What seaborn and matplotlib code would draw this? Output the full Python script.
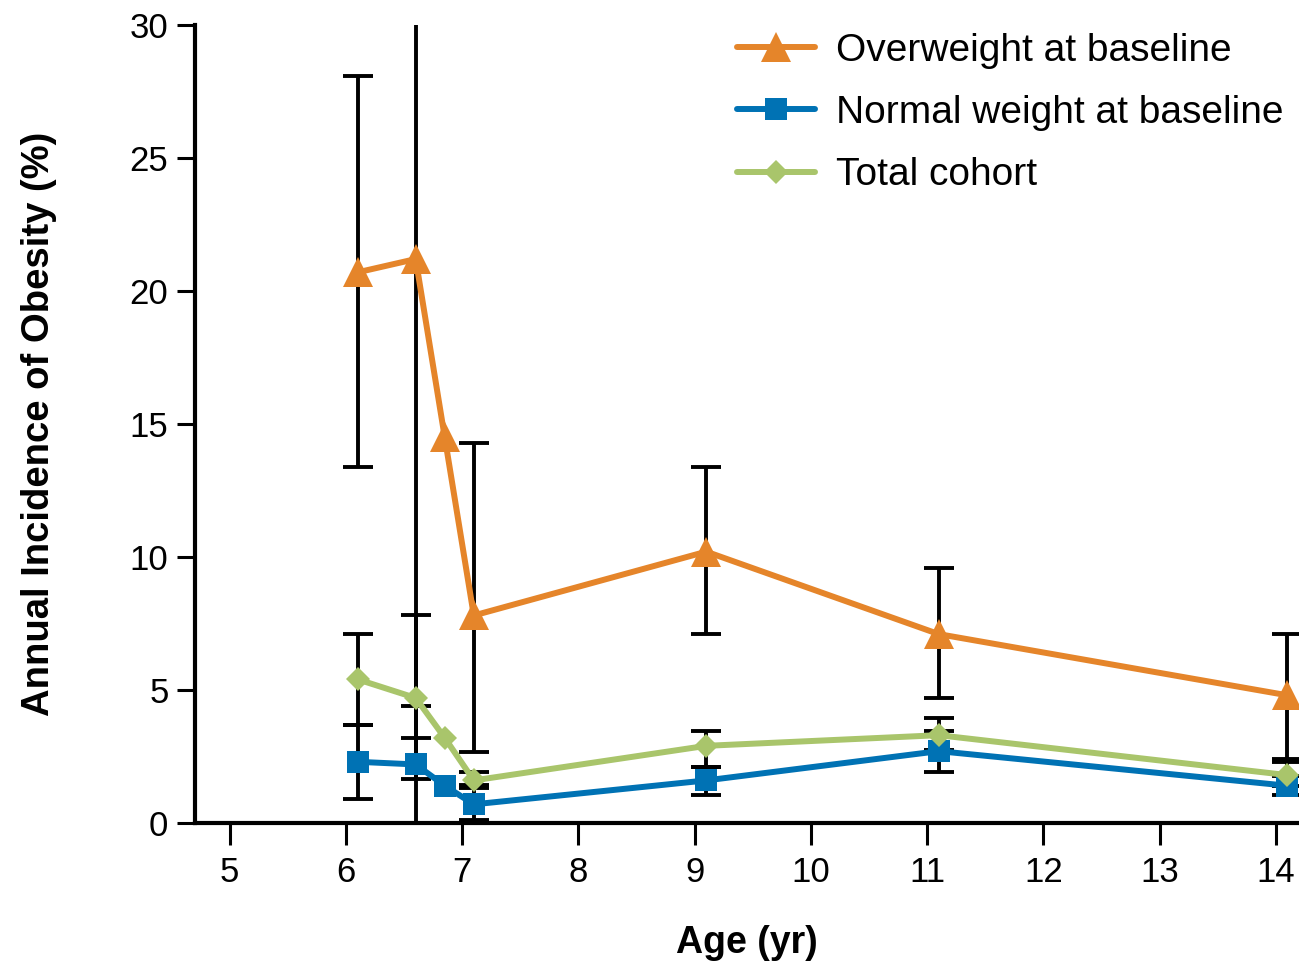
import numpy as np
import pandas as pd
import matplotlib
matplotlib.use("Agg")
import matplotlib.pyplot as plt
import seaborn as sns

# ---- data ----
age = [6.1, 6.6, 6.85, 7.1, 9.1, 11.1, 14.1]
overweight = [20.7, 21.2, 14.5, 7.8, 10.2, 7.1, 4.8]
over_lo = [13.4, -0.1, np.nan, 2.65, 7.1, 4.7, 2.4]
over_hi = [28.1, 32.0, np.nan, 14.3, 13.4, 9.6, 7.1]
normal = [2.3, 2.2, 1.4, 0.7, 1.6, 2.7, 1.4]
norm_lo = [0.9, 1.65, np.nan, 0.1, 1.05, 1.9, 1.05]
norm_hi = [3.7, 4.4, np.nan, 1.43, 2.1, 3.45, 1.75]
total = [5.4, 4.7, 3.2, 1.6, 2.9, 3.3, 1.8]
tot_lo = [3.7, 3.2, np.nan, 1.3, 2.1, 2.75, 1.4]
tot_hi = [7.1, 7.8, np.nan, 1.9, 3.45, 3.95, 2.3]
labels = ["Overweight at baseline", "Normal weight at baseline", "Total cohort"]
xticks = [5, 6, 7, 8, 9, 10, 11, 12, 13, 14]
yticks = [0, 5, 10, 15, 20, 25, 30]

sns.set_theme(style="white")
plt.rcParams['font.family'] = ['Liberation Sans', 'DejaVu Sans']
plt.rcParams['text.color'] = 'black'
plt.rcParams['axes.labelcolor'] = 'black'

fig = plt.figure(figsize=(12.99, 9.64), dpi=100)
ax = fig.add_axes([0.150, 0.1463, 0.850, 0.8278])

colors = ["#E5852A", "#0072B4", "#A9C56B"]
markers = ["^", "s", "D"]
msizes = [21, 16, 12]
series = [overweight, normal, total]
los = [over_lo, norm_lo, tot_lo]
his = [over_hi, norm_hi, tot_hi]

# error bars (black), drawn under the lines
for vals, lo, hi in zip(series, los, his):
    v = np.array(vals, dtype=float)
    l = np.array(lo, dtype=float)
    h = np.array(hi, dtype=float)
    mask = ~np.isnan(l)
    ax.errorbar(np.array(age)[mask], v[mask],
                yerr=[v[mask] - l[mask], h[mask] - v[mask]],
                fmt="none", ecolor="black", elinewidth=2.8,
                capsize=11, capthick=2.8, zorder=2)

for vals, lab, c, m, ms in zip(series, labels, colors, markers, msizes):
    df = pd.DataFrame({"Age": age, "Incidence": vals})
    sns.lineplot(data=df, x="Age", y="Incidence", ax=ax, color=c,
                 marker=m, markersize=ms, markeredgewidth=0,
                 linewidth=4.3, label=lab, zorder=3)

ax.set_xlim(4.70, 14.2)
ax.set_ylim(0, 30)
ax.set_xticks(xticks)
ax.set_yticks(yticks)
ax.set_xticklabels([str(t) for t in xticks])
ax.set_yticklabels([str(t) for t in yticks])

for s in ["top", "right"]:
    ax.spines[s].set_visible(False)
for s in ["left", "bottom"]:
    ax.spines[s].set_linewidth(3)
    ax.spines[s].set_color("black")

ax.tick_params(axis="x", direction="out", length=16, width=2.2,
               labelsize=25, pad=8, colors="black", bottom=True)
ax.tick_params(axis="y", direction="out", length=13, width=2.2,
               labelsize=25, pad=6, colors="black", left=True)

ax.set_xlabel("Age (yr)", fontsize=27, fontweight="bold", labelpad=26)
ax.set_ylabel("Annual Incidence of Obesity (%)", fontsize=27.5,
              fontweight="bold", labelpad=52)

leg = ax.legend(loc="upper right", bbox_to_anchor=(1.0, 1.01),
                frameon=False, fontsize=28, handlelength=2.0,
                handletextpad=0.55, labelspacing=0.68, borderaxespad=0.0)

fig.savefig("out.png", dpi=100)
